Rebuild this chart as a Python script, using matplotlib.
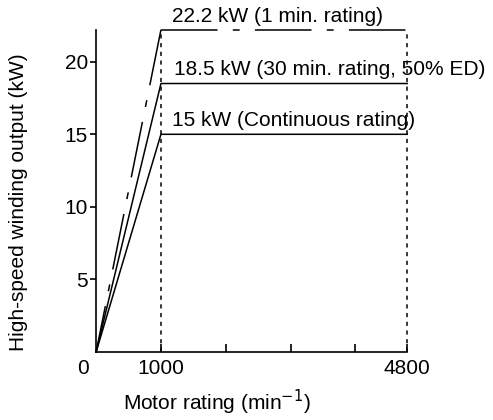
import matplotlib.pyplot as plt

plt.rcParams['font.family'] = ['Liberation Sans', 'DejaVu Sans']

# corner points of each rating curve (speed in min^-1, output in kW)
speed = [0, 1000, 4800]
cont_kw = [0, 15, 15]
min30_kw = [0, 18.5, 18.5]
min1_kw = [0, 22.2, 22.2]

labels = ['15 kW (Continuous rating)',
          '18.5 kW (30 min. rating, 50% ED)',
          '22.2 kW (1 min. rating)']

xticks = [1000, 2000, 3000, 4000, 4800]
xticklabels = ['1000', '', '', '', '4800']
yticks = [5, 10, 15, 20]

fs = 15

fig = plt.figure(figsize=(4.93, 4.2), dpi=100)
ax = fig.add_axes([0.195, 0.162, 0.631, 0.767])

lw = 1.1
ax.plot(speed, cont_kw, color='black', lw=lw, clip_on=False)
ax.plot(speed, min30_kw, color='black', lw=lw, clip_on=False)
# 1 min rating drawn dash-dot, top part and rising part separately
dd = (0, (37, 10, 4.5, 10))
ax.plot(speed[1:], min1_kw[1:], color='black', lw=lw, linestyle=dd, clip_on=False)
ax.plot(speed[1::-1], min1_kw[1::-1], color='black', lw=lw, linestyle=dd, clip_on=False)

# dashed verticals at 1000 and 4800
for x in speed[1:]:
    ax.plot([x, x], [0, min1_kw[-1]], color='black', lw=lw,
            linestyle=(0, (2.7, 3)), clip_on=False)

# curve labels
ax.text(1170, 15.3, labels[0], fontsize=fs, va='bottom')
ax.text(1200, 18.8, labels[1], fontsize=fs, va='bottom')
ax.text(1170, 22.45, labels[2], fontsize=fs, va='bottom')

ax.set_xlim(0, 4800)
ax.set_ylim(0, 22.2)
ax.set_xticks(xticks)
ax.set_xticklabels(xticklabels)
ax.set_yticks(yticks)
ax.tick_params(axis='x', direction='in', length=6, width=1.2, pad=5, labelsize=fs)
ax.tick_params(axis='y', direction='out', length=4, width=1.2, pad=2, labelsize=fs)
ax.text(-0.042, -0.05, '0', transform=ax.transAxes, fontsize=fs, ha='center', va='center')

for s in ['top', 'right']:
    ax.spines[s].set_visible(False)
for s in ['left', 'bottom']:
    ax.spines[s].set_linewidth(1.2)

ax.set_xlabel('Motor rating (min$^{-1}$)', fontsize=fs)
ax.set_ylabel('High-speed winding output (kW)', fontsize=fs)
ax.xaxis.set_label_coords(0.389, -0.11)
ax.yaxis.set_label_coords(-0.22, 0.465)

fig.savefig('out.png', dpi=100)
